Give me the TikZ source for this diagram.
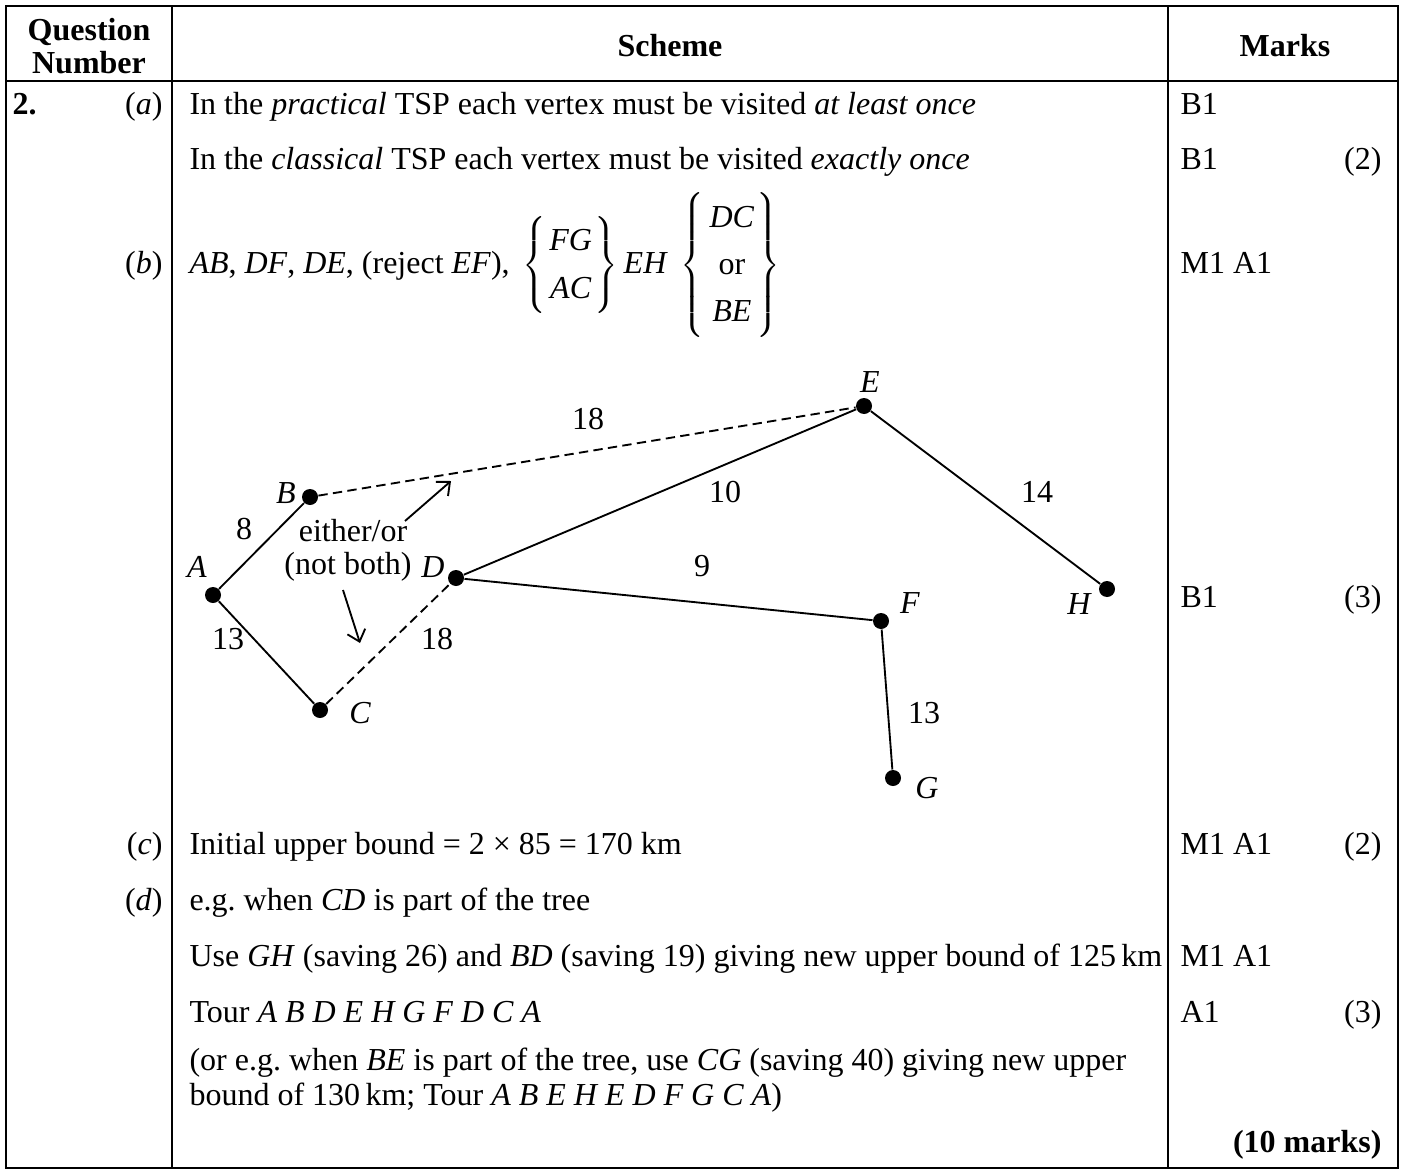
\documentclass[tikz,border=0pt]{standalone}
\usepackage{fontspec}
\setmainfont{Liberation Serif}
\usetikzlibrary{arrows.meta}
\frenchspacing
\begin{document}
\begin{tikzpicture}[x=0.375pt,y=-0.375pt,
  every node/.style={font=\fontsize{12pt}{14.5pt}\selectfont, inner sep=0pt},
  rule/.style={line width=0.85pt},
  edge/.style={line width=0.7pt},
  dashedge/.style={line width=0.7pt, dash pattern=on 3.5pt off 2pt},
  vtx/.style={circle, fill=black, minimum size=6pt, inner sep=0pt},
  vlab/.style={font=\fontsize{12pt}{14.5pt}\selectfont\itshape},
  txt/.style={anchor=base west},
  txr/.style={anchor=base east},
  hd/.style={anchor=base, font=\fontsize{12pt}{14.5pt}\selectfont\bfseries},
  note/.style={line width=0.7pt, -{Straight Barb[length=4pt,width=7pt]}}
]
\useasboundingbox (0,0) rectangle (1404,1173);
% table rules
\draw[rule] (6,6) rectangle (1398,1168);
\draw[rule] (6,81) -- (1398,81);
\draw[rule] (172,6) -- (172,1168);
\draw[rule] (1168,6) -- (1168,1168);
% header
\node[hd] (hq1) at (89,41) {Question};
\node[hd] (hq2) at (89,74) {Number};
\node[hd] (hs) at (670,57) {Scheme};
\node[hd] (hm) at (1285,57) {Marks};
% question number column
\node[txt, font=\fontsize{12pt}{14.5pt}\selectfont\bfseries] (qn) at (12,115) {2.};
\node[txr] (pa) at (163,115) {(\textit{a})};
\node[txr] (pb) at (163,273) {(\textit{b})};
\node[txr] (pc) at (163,854) {(\textit{c})};
\node[txr] (pd) at (163,910) {(\textit{d})};
% scheme column
\node[txt] (s1) at (189,115) {In the \textit{practical} TSP each vertex must be visited \textit{at least once}};
\node[txt] (s2) at (189,170) {In the \textit{classical} TSP each vertex must be visited \textit{exactly once}};
\node[txt] (s3) at (189,273) {\textit{AB}, \textit{DF}, \textit{DE}, (reject \textit{EF}), $\renewcommand{\arraystretch}{1.22}\mkern3mu\left\{\begin{array}{@{\hspace{1pt}}c@{\hspace{1pt}}}\textit{FG}\\ \textit{AC}\end{array}\right\}\textit{EH}\;\left\{\begin{array}{@{\hspace{2pt}}c@{\hspace{1pt}}}\textit{DC}\\ \mbox{or}\\ \textit{BE}\end{array}\right\}$};
\node[txt] (s4) at (189,854) {Initial upper bound = 2 × 85 = 170 km};
\node[txt] (s5) at (189,910) {e.g. when \textit{CD} is part of the tree};
\node[txt] (s6) at (189,966) {Use \textit{GH} (saving 26) and \textit{BD} (saving 19) giving new upper bound of 125\,km};
\node[txt] (s7) at (189,1022) {Tour \textit{A B D E H G F D C A}};
\node[txt] (s8) at (189,1070) {(or e.g. when \textit{BE} is part of the tree, use \textit{CG} (saving 40) giving new upper};
\node[txt] (s9) at (189,1105) {bound of 130\,km; Tour \textit{A B E H E D F G C A})};
% marks column
\node[txt] (m1) at (1180,115) {B1};
\node[txt] (m2) at (1180,170) {B1};
\node[txr] (m2r) at (1382,170) {(2)};
\node[txt] (m3) at (1180,273) {M1 A1};
\node[txt] (m4) at (1180,607) {B1};
\node[txr] (m4r) at (1382,607) {(3)};
\node[txt] (m5) at (1180,854) {M1 A1};
\node[txr] (m5r) at (1382,854) {(2)};
\node[txt] (m6) at (1180,966) {M1 A1};
\node[txt] (m7) at (1180,1022) {A1};
\node[txr] (m7r) at (1382,1022) {(3)};
\node[txr, font=\fontsize{12pt}{14.5pt}\selectfont\bfseries] (m8) at (1382,1152) {(10 marks)};
% graph vertices
\node[vtx] (A) at (213,595) {};
\node[vtx] (B) at (310,497) {};
\node[vtx] (C) at (320,710) {};
\node[vtx] (D) at (456,578) {};
\node[vtx] (E) at (864,406) {};
\node[vtx] (F) at (881,621) {};
\node[vtx] (G) at (893,778) {};
\node[vtx] (H) at (1107,589) {};
% vertex labels
\node[vlab] (lA) at (197,567) {A};
\node[vlab] (lB) at (286,493) {B};
\node[vlab] (lC) at (360,713) {C};
\node[vlab] (lD) at (433,567) {D};
\node[vlab] (lE) at (870,382) {E};
\node[vlab] (lF) at (910,603) {F};
\node[vlab] (lG) at (927,788) {G};
\node[vlab] (lH) at (1079,604) {H};
% edges
\draw[edge] (A) -- (B);
\draw[edge] (A) -- (C);
\draw[edge] (D) -- (E);
\draw[edge] (D) -- (F);
\draw[edge] (E) -- (H);
\draw[edge] (F) -- (G);
\draw[dashedge] (B) -- (E);
\draw[dashedge] (C) -- (D);
% weights
\node (w1) at (244,529) {8};
\node (w2) at (228,639) {13};
\node (w3) at (588,419) {18};
\node (w4) at (725,492) {10};
\node (w5) at (1037,492) {14};
\node (w6) at (702,566) {9};
\node (w7) at (437,639) {18};
\node (w8) at (924,713) {13};
% note
\node (n1) at (353,531) {either/or};
\node (n2) at (348,567) {(not both)};
\coordinate (a1s) at (405,521);
\coordinate (a1e) at (451,481);
\coordinate (a2s) at (343,590);
\coordinate (a2e) at (360,643);
\draw[note] (a1s) -- (a1e);
\draw[note] (a2s) -- (a2e);
\end{tikzpicture}
\end{document}
